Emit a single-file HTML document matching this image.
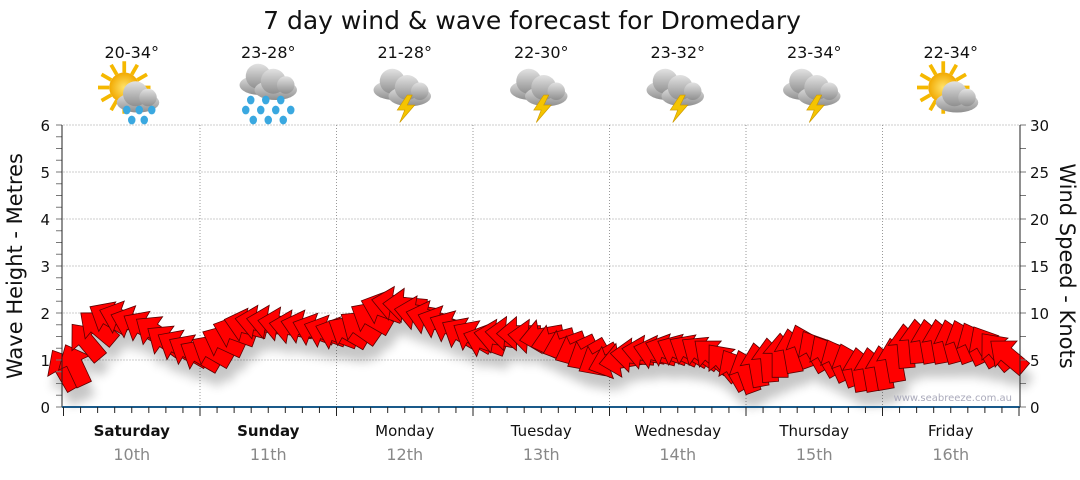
<!DOCTYPE html>
<html><head><meta charset="utf-8"><style>
body{margin:0;background:#fff;font-family:"Liberation Sans","DejaVu Sans",sans-serif}
svg text{font-family:"DejaVu Sans","Liberation Sans",sans-serif}
</style></head><body>
<svg id="c" width="1080" height="475" viewBox="0 0 1080 475">
<defs>
<filter id="sh" x="-50%" y="-50%" width="200%" height="200%"><feGaussianBlur stdDeviation="5"/></filter>
<radialGradient id="sun" cx="50%" cy="50%" r="50%"><stop offset="0" stop-color="#ffe36a"/><stop offset="1" stop-color="#f2a900"/></radialGradient>
<linearGradient id="cl" x1="0" y1="0" x2="0" y2="1"><stop offset="0" stop-color="#e2e2e2"/><stop offset="1" stop-color="#8f8f8f"/></linearGradient>
</defs>
<text x="532" y="29" font-size="25" text-anchor="middle" fill="#111">7 day wind &amp; wave forecast for Dromedary</text>
<g id="grid"></g><g id="icons"></g><g id="shadow" filter="url(#sh)" opacity="0.22"></g><g id="arrows"></g><g id="axes"></g>
<text x="1012" y="401" font-size="10" text-anchor="end" fill="#aab">www.seabreeze.com.au</text>
<text transform="translate(22,266) rotate(-90)" font-size="21" text-anchor="middle" fill="#111">Wave Height - Metres</text>
<text transform="translate(1060,266) rotate(90)" font-size="21" text-anchor="middle" fill="#111">Wind Speed - Knots</text>
</svg>
<script>
const days=["Saturday","Sunday","Monday","Tuesday","Wednesday","Thursday","Friday"];
const dates=["10th","11th","12th","13th","14th","15th","16th"];
const temps=["20-34°","23-28°","21-28°","22-30°","23-32°","23-34°","22-34°"];
const weather=["sunrain","rain","storm","storm","storm","storm","suncloud"];
const waveTicks=[0,1,2,3,4,5,6];
const windTicks=[0,5,10,15,20,25,30];
const windKnots=[4,4.5,7,8.5,9.5,9.5,9,8.5,8,7,6.5,6,
5.5,6,7,8,8.7,9,9,8.8,8.5,8.5,8.2,8,
7.8,8,8.5,9.5,10.5,11,10.8,10,9.5,9,8.5,7.8,
7.5,7,7.5,7.8,7.8,7.5,7.5,7,6.5,6,5.5,5,
4.8,5,5.5,5.8,5.8,6,6,6,5.8,5.5,4.8,4,
3.8,4.5,5,5.5,6,6.5,6,5.5,5,4.5,4,4,
4.2,5,6.5,7,7,7,7,7,6.8,6.5,6,5.5];
const windAngle=[-120,-115,-130,-140,-150,-160,-160,-150,-145,-145,-150,-150,
-150,-150,-155,-160,-165,-170,-170,-170,-170,-165,-160,-160,
-160,-150,-145,-150,-160,-170,-175,-170,-165,-160,-155,-150,
-150,-160,-170,-175,-180,-175,170,165,160,155,150,150,
160,170,-175,-170,-165,-160,-155,-150,-145,-140,-130,-120,
-110,-100,-95,-90,-100,-110,-120,-120,-115,-110,-100,-100,
-100,-100,-95,-95,-100,-100,-105,-110,-115,-120,-130,-140];
const NS="http://www.w3.org/2000/svg";
const X0=63.5,DW=136.5,Y0=407,YT=125;
const xHour=h=>X0+h/24*DW;
const yWave=m=>Y0-(Y0-YT)*m/6;
const yWind=k=>Y0-(Y0-YT)*k/30;
function mk(p,tag,a){const e=document.createElementNS(NS,tag);for(const k in a)e.setAttribute(k,a[k]);p.appendChild(e);return e;}
const grid=document.getElementById('grid'),axes=document.getElementById('axes'),icons=document.getElementById('icons');
waveTicks.forEach(v=>{if(v>0){const l=mk(grid,'line',{x1:X0,x2:1020,y1:yWave(v),y2:yWave(v),stroke:'#999','stroke-dasharray':'1,2'});}
const t=mk(axes,'text',{x:50,y:yWave(v)+6,'font-size':15,'text-anchor':'end',fill:'#111'});t.textContent=v;});
for(let m=0;m<=6;m+=0.25){mk(axes,'line',{x1:56,x2:62,y1:yWave(m),y2:yWave(m),stroke:'#777'});}
windTicks.forEach(v=>{const t=mk(axes,'text',{x:1030,y:yWind(v)+6,'font-size':15,fill:'#111'});t.textContent=v;});
for(let k=0;k<=30;k+=2.5){mk(axes,'line',{x1:1020,x2:1026,y1:yWind(k),y2:yWind(k),stroke:'#777'});}
mk(axes,'line',{x1:62,x2:62,y1:YT,y2:Y0,stroke:'#222'});
mk(axes,'line',{x1:1020,x2:1020,y1:YT,y2:Y0,stroke:'#222'});
const base=mk(axes,'line',{x1:62,x2:1020,y1:Y0,y2:Y0,stroke:'#1a5a8a','stroke-width':2});

for(let h=0;h<=168;h+=3){const x=xHour(h);if(x>1020)break;mk(axes,'line',{x1:x,x2:x,y1:Y0,y2:Y0+(h%24==0?9:6),stroke:'#222'});}
days.forEach((d,i)=>{const xc=xHour(i*24+12);
if(i>0){const l=mk(grid,'line',{x1:xHour(i*24),x2:xHour(i*24),y1:YT,y2:Y0,stroke:'#999','stroke-dasharray':'1,2'});}
const t=mk(axes,'text',{x:xc,y:436,'font-size':15,'text-anchor':'middle',fill:'#111','font-weight':i<2?'bold':'normal'});t.textContent=d;
const t2=mk(axes,'text',{x:xc,y:460,'font-size':16,'text-anchor':'middle',fill:'#888'});t2.textContent=dates[i];
const tt=mk(icons,'text',{x:xc,y:58,'font-size':16,'text-anchor':'middle',fill:'#111'});tt.textContent=temps[i];
const g=mk(icons,'g',{transform:`translate(${xc},95) scale(1.25)`});
const w=weather[i];
if(w=="sunrain"||w=="suncloud"){for(let a=0;a<360;a+=30){const r=a*Math.PI/180;mk(g,'line',{x1:-6+Math.cos(r)*12,y1:-6+Math.sin(r)*12,x2:-6+Math.cos(r)*21,y2:-6+Math.sin(r)*21,stroke:'#f5b800','stroke-width':3});}mk(g,'circle',{cx:-6,cy:-6,r:12,fill:'url(#sun)'});}
const cloud=(dx,dy)=>{mk(g,'ellipse',{cx:dx,cy:dy+4,rx:17,ry:8,fill:'url(#cl)'});mk(g,'circle',{cx:dx-2,cy:dy-3,r:10,fill:'url(#cl)'});mk(g,'circle',{cx:dx+8,cy:dy,r:7,fill:'url(#cl)'});};
if(w=="rain"){cloud(-6,-12);cloud(6,-8);}
else if(w=="storm"){cloud(-8,-8);cloud(4,-3);}
else cloud(5,2);
if(w=="rain"||w=="sunrain"){const drops=w=="rain"?[[-14,4],[-2,4],[10,4],[-18,12],[-6,12],[6,12],[18,12],[-12,20],[0,20],[12,20]]:[[-4,12],[6,12],[16,12],[0,20],[10,20]];drops.forEach(p=>mk(g,'ellipse',{cx:p[0],cy:p[1],rx:3,ry:3.5,fill:'#3aa8e0'}));}
if(w=="storm")mk(g,'polygon',{points:"2,0 -6,12 0,12 -4,22 8,8 2,8 6,0",fill:'#f5c400',stroke:'#c90','stroke-width':0.5});
});
// arrows
const arrG=document.getElementById('arrows'),shG=document.getElementById('shadow');
const shape="-22,-8 2,-8 2,-17 22,0 2,17 2,8 -22,8";
windKnots.forEach((k,i)=>{const x=xHour(i*2),y=yWind(k);if(x>1020)return;
mk(shG,'polygon',{points:shape,fill:'#000',transform:`translate(${x+4},${y+14}) rotate(${windAngle[i]})`});
const p=mk(arrG,'polygon',{points:shape,fill:'#ff0000',stroke:'#5a0000','stroke-width':0.8,transform:`translate(${x},${y}) rotate(${windAngle[i]})`});

});
</script>
</body></html>
